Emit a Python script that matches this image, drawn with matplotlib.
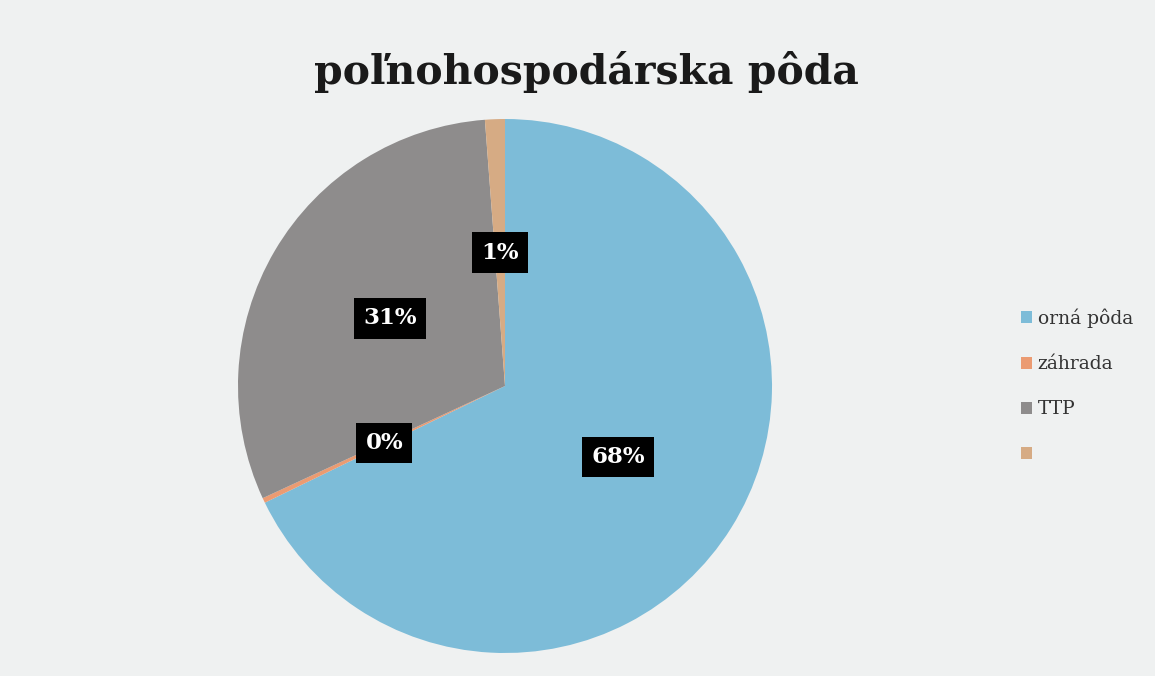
import matplotlib.pyplot as plt

# data
labels = ['orná pôda', 'záhrada', 'TTP', '']
values = [67.8, 0.3, 30.7, 1.2]
colors = ['#7dbcd8', '#eb9b72', '#8e8c8c', '#d6ab84']

W, H = 1155, 676
fig = plt.figure(figsize=(W / 100, H / 100), dpi=100)
fig.patch.set_facecolor('#eff1f1')

# pie centre (505, 385) px, radius 267 px
cx, cy, r = 505, 386, 267
ax = fig.add_axes([(cx - r) / W, (H - cy - r) / H, 2 * r / W, 2 * r / H])
ax.set_facecolor('none')

wedges, texts, autotexts = ax.pie(
    values, colors=colors, startangle=90, counterclock=False,
    autopct='%1.0f%%', pctdistance=0.5, radius=1.0,
    wedgeprops=dict(linewidth=0))
ax.set_xlim(-1, 1)
ax.set_ylim(-1, 1)
ax.set_aspect('equal')

for t in autotexts:
    t.set_color('white')
    t.set_fontfamily('DejaVu Serif')
    t.set_fontweight('bold')
    t.set_fontsize(16.5)
    t.set_bbox(dict(facecolor='black', edgecolor='none', boxstyle='square,pad=0.4'))

fig.text(0.508, 1 - 72 / H, 'poľnohospodárska pôda', ha='center', va='center',
         fontsize=29.5, fontweight='bold', family='DejaVu Serif', color='#1a1a1a')

leg = fig.legend(wedges, labels, loc='center left',
                 bbox_to_anchor=(1004 / W, 1 - 386 / H), frameon=False,
                 prop=dict(family='DejaVu Serif', size=13.5),
                 handlelength=0.6, handleheight=0.6, handletextpad=0.3,
                 labelspacing=1.45, labelcolor='#333333')

fig.savefig('out.png', dpi=100, facecolor=fig.get_facecolor())
